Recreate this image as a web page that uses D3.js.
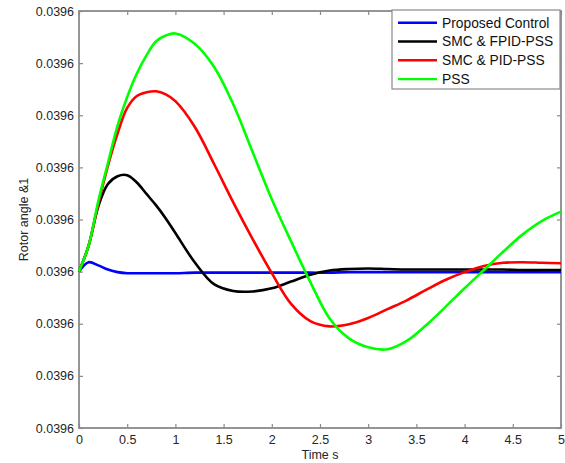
<!DOCTYPE html>
<html lang="en">
<head>
<meta charset="utf-8">
<script src="https://cdn.jsdelivr.net/npm/d3@7"></script>
<style>
  body { margin: 0; background: #fff; }
  svg { font-family: "Liberation Sans", Arial, sans-serif; }
</style>
</head>
<body>
<script>
// time grid (s)
var timeS = [0, 0.1, 0.2, 0.3, 0.4, 0.5, 0.6, 0.7, 0.8, 0.9, 1.0, 1.2, 1.4, 1.6, 1.8, 2.0,
  2.2, 2.4, 2.6, 2.8, 3.0, 3.2, 3.4, 3.6, 3.8, 4.0, 4.2, 4.4, 4.6, 4.8, 5.0];

// rotor angle, in tick steps away from the start value
var proposed = [0, 0.18, 0.12, 0.04, -0.01, -0.03, -0.03, -0.03, -0.03, -0.03, -0.03, -0.02, -0.02, -0.02, -0.02, -0.02,
  -0.02, -0.02, -0.02, -0.01, -0.01, -0.01, -0.01, -0.01, -0.01, -0.01, -0.01, -0.01, -0.01, -0.01, -0.01];
var smcFpid = [0, 0.5, 1.25, 1.68, 1.83, 1.85, 1.71, 1.49, 1.27, 1.02, 0.74, 0.18, -0.24, -0.37, -0.38, -0.32,
  -0.19, -0.06, 0.02, 0.05, 0.06, 0.05, 0.04, 0.04, 0.04, 0.04, 0.04, 0.04, 0.03, 0.03, 0.03];
var smcPid = [0, 0.5, 1.3, 2.03, 2.65, 3.14, 3.37, 3.44, 3.46, 3.40, 3.27, 2.78, 2.07, 1.33, 0.63, -0.03,
  -0.62, -0.95, -1.05, -1.01, -0.89, -0.72, -0.55, -0.35, -0.16, -0.01, 0.11, 0.17, 0.18, 0.17, 0.16];
var pss = [0, 0.5, 1.35, 2.08, 2.8, 3.35, 3.8, 4.15, 4.42, 4.53, 4.57, 4.37, 3.93, 3.21, 2.3, 1.39,
  0.58, -0.2, -0.9, -1.28, -1.45, -1.49, -1.33, -1.03, -0.68, -0.32, 0.03, 0.38, 0.71, 0.97, 1.15];

var seriesNames = ["Proposed Control", "SMC & FPID-PSS", "SMC & PID-PSS", "PSS"];
var seriesColors = ["#0000ff", "#000000", "#ff0000", "#00ff00"];

var xTicks = [0, 0.5, 1, 1.5, 2, 2.5, 3, 3.5, 4, 4.5, 5];
var yTicks = [-3, -2, -1, 0, 1, 2, 3, 4, 5];
var yTickLabels = ["0.0396", "0.0396", "0.0396", "0.0396", "0.0396", "0.0396", "0.0396", "0.0396", "0.0396"];

const W = 565, H = 463;
var margin = {left: 79, right: 5, top: 11, bottom: 35};

const svg = d3.select("body").append("svg")
  .attr("width", W)
  .attr("height", H);

svg.append("rect").attr("width", W).attr("height", H).attr("fill", "#fff");

const xScale = d3.scaleLinear().domain([0, 5]).range([margin.left, W - margin.right + 1]);
const yScale = d3.scaleLinear().domain([-3, 5]).range([H - margin.bottom, margin.top]);

const axisColor = "#8a8a8a";

function styleAxis(g) {
  g.select(".domain").remove();
  g.selectAll(".tick line").attr("stroke", axisColor).attr("stroke-width", 1.2);
  g.selectAll(".tick text").attr("fill", "#262626").style("font-size", "12.5px");
}

// bottom
svg.append("g")
  .attr("transform", "translate(0," + yScale(-3) + ")")
  .call(d3.axisBottom(xScale).tickValues(xTicks).tickSizeInner(-4).tickSizeOuter(0).tickPadding(7)
    .tickFormat(d3.format("")))
  .call(styleAxis);

// top
svg.append("g")
  .attr("transform", "translate(0," + yScale(5) + ")")
  .call(d3.axisTop(xScale).tickValues(xTicks).tickSizeInner(-4).tickSizeOuter(0).tickFormat(""))
  .call(styleAxis);

// left
svg.append("g")
  .attr("transform", "translate(" + xScale(0) + ",0)")
  .call(d3.axisLeft(yScale).tickValues(yTicks).tickSizeInner(-4).tickSizeOuter(0).tickPadding(5)
    .tickFormat((d, i) => yTickLabels[i]))
  .call(styleAxis);

// right
svg.append("g")
  .attr("transform", "translate(" + xScale(5) + ",0)")
  .call(d3.axisRight(yScale).tickValues(yTicks).tickSizeInner(-4).tickSizeOuter(0).tickFormat(""))
  .call(styleAxis);

// box
svg.append("rect")
  .attr("x", xScale(0))
  .attr("y", yScale(5))
  .attr("width", xScale(5) - xScale(0))
  .attr("height", yScale(-3) - yScale(5))
  .attr("fill", "none")
  .attr("stroke", axisColor)
  .attr("stroke-width", 1.8);

// lines
var allSeries = [proposed, smcFpid, smcPid, pss];
const line = d3.line()
  .x((d, i) => xScale(timeS[i]))
  .y(d => yScale(d))
  .curve(d3.curveCatmullRom.alpha(0.5));

allSeries.forEach((s, k) => {
  svg.append("path")
    .datum(s)
    .attr("d", line)
    .attr("fill", "none")
    .attr("stroke", seriesColors[k])
    .attr("stroke-width", 2.6)
    .attr("stroke-linejoin", "round");
});

// axis titles
svg.append("text")
  .attr("x", (xScale(0) + xScale(5)) / 2)
  .attr("y", 459)
  .attr("text-anchor", "middle")
  .style("font-size", "12.5px")
  .attr("fill", "#262626")
  .text("Time s");

svg.append("text")
  .attr("transform", "translate(28," + (yScale(1)) + ") rotate(-90)")
  .attr("text-anchor", "middle")
  .style("font-size", "12.5px")
  .attr("fill", "#262626")
  .text("Rotor angle &1");

// legend
var legend = svg.append("g").attr("id", "legend");
var lx = 392, ly = 10, lw = 168, lh = 79;
legend.append("rect")
  .attr("x", lx).attr("y", ly).attr("width", lw).attr("height", lh)
  .attr("fill", "#fff")
  .attr("stroke", axisColor)
  .attr("stroke-width", 1.2);

seriesNames.forEach((name, k) => {
  var yy = ly + 12.7 + k * 18.8;
  legend.append("line")
    .attr("x1", lx + 6).attr("x2", lx + 45)
    .attr("y1", yy).attr("y2", yy)
    .attr("stroke", seriesColors[k])
    .attr("stroke-width", 2.4);
  legend.append("text")
    .attr("x", lx + 50)
    .attr("y", yy)
    .attr("dy", "0.36em")
    .style("font-size", "13.8px")
    .attr("fill", "#111")
    .text(name);
});
</script>
</body>
</html>
